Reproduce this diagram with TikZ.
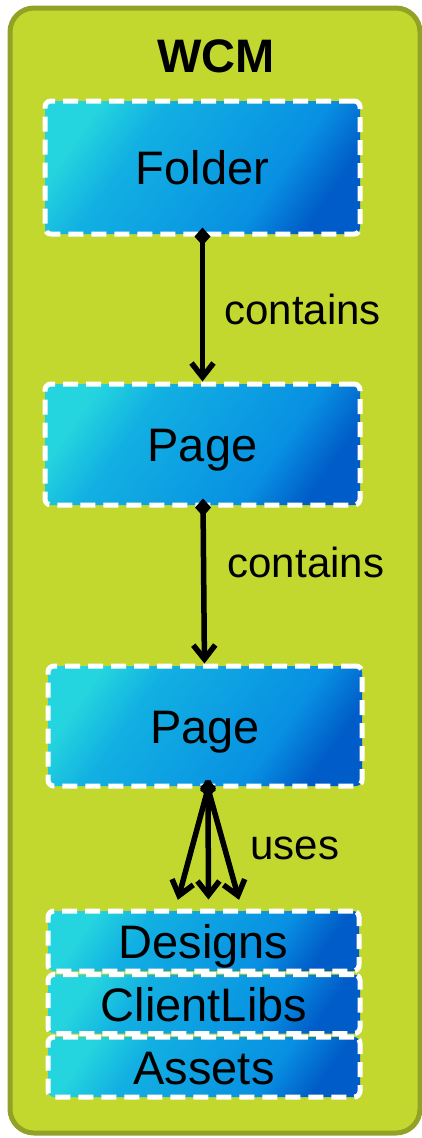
\documentclass[tikz,border=0pt]{standalone}
\usepackage{fontspec}
\setmainfont{Liberation Sans}
\usetikzlibrary{arrows.meta}

\definecolor{wcmgreen}{RGB}{194,216,47}
\definecolor{wcmborder}{RGB}{147,162,39}
\definecolor{boxcyan}{RGB}{36,212,222}
\definecolor{boxmid}{RGB}{18,176,226}
\definecolor{boxblue}{RGB}{8,144,226}
\definecolor{boxdark}{RGB}{0,92,200}

\pgfdeclarehorizontalshading{itemshade}{100bp}{color(0bp)=(boxcyan); color(25bp)=(boxcyan);
  color(36bp)=(boxmid); color(64bp)=(boxblue); color(75bp)=(boxdark); color(100bp)=(boxdark)}

\tikzset{
  item/.style={rounded corners=6pt, draw=white, line width=5pt,
    dash pattern=on 15pt off 8pt,
    shading=itemshade, shading angle=-35,
    inner sep=0pt, text height=34pt, text depth=0pt,
    font=\fontsize{47}{50}\selectfont},
  link/.style={draw, black, line width=5.5pt, shorten <=-9pt,
    {Diamond[length=18pt,width=16pt]}-{Straight Barb[length=14pt,width=22pt]}},
  relname/.style={font=\fontsize{42}{46}\selectfont}
}

\begin{document}
\begin{tikzpicture}[x=1pt,y=-1pt]
  \useasboundingbox (0,0) rectangle (422,1138);
  % package frame
  \draw[wcmborder, line width=5pt, fill=wcmgreen, rounded corners=24pt] (10,8) rectangle (420,1133);
  \node[font=\fontsize{47}{50}\selectfont\bfseries] (wcm) at (216,56) {WCM};

  \node[item, minimum width=315pt, minimum height=133pt] (folder) at (202.5,167.5) {Folder};
  \node[item, minimum width=315pt, minimum height=121pt] (page1) at (202.5,444.5) {Page};
  \node[item, minimum width=314pt, minimum height=120pt] (page2) at (205,726) {Page};
  \node[item, minimum width=311pt, minimum height=60pt] (designs) at (203.5,941) {Designs};
  \node[item, minimum width=312pt, minimum height=59pt] (clientlibs) at (204,1004) {ClientLibs};
  \node[item, minimum width=312pt, minimum height=60pt] (assets) at (204,1067) {Assets};

  \path
    (folder) edge[link] node[relname, right=16pt] {contains} (page1)
    (page1) edge[link] node[relname, right=18pt, pos=0.35] {contains} (page2);
  \path
    ([xshift=3pt]page2.south) edge[link, shorten >=9pt] ([xshift=-28pt]designs.north)
    ([xshift=3pt]page2.south) edge[link, shorten >=9pt] node[relname, right=36pt] {uses} ([xshift=5pt]designs.north)
    ([xshift=3pt]page2.south) edge[link, shorten >=9pt] ([xshift=38pt]designs.north);
\end{tikzpicture}
\end{document}
